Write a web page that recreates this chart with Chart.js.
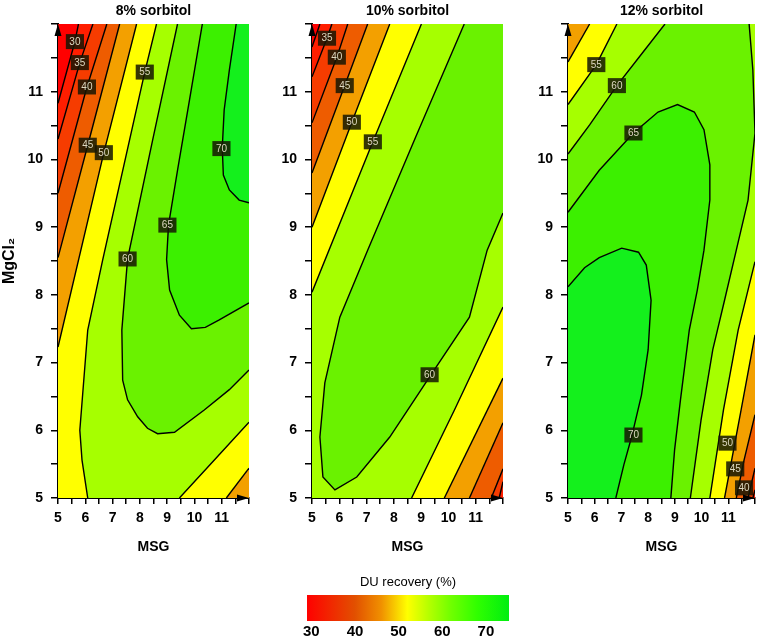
<!DOCTYPE html>
<html>
<head>
<meta charset="utf-8">
<script src="https://cdn.jsdelivr.net/npm/chart.js@4.4.1/dist/chart.umd.min.js"></script>
<style>
  body { margin: 0; background: #fff; }
  #wrap { position: relative; width: 761px; height: 640px; overflow: hidden; }
  canvas { position: absolute; }
</style>
</head>
<body>
<div id="wrap">
  <canvas id="c8" width="256" height="562" style="left:0;top:0"></canvas>
  <canvas id="c10" width="248" height="562" style="left:262px;top:0"></canvas>
  <canvas id="c12" width="243" height="562" style="left:518px;top:0"></canvas>
  <canvas id="cbar" width="256" height="74" style="left:280px;top:566px"></canvas>
</div>
<script>
const FONT = "'Liberation Sans', Arial, sans-serif";

// ---------- livelli e colori delle fasce ----------
const levels = [30, 35, 40, 45, 50, 55, 60, 65, 70];
const bandColors = ['#ff1e00', '#f63c00', '#ee5c00', '#f3a000', '#ffff00', '#a6ff00', '#6af200', '#3cf000', '#14f01c'];
const below30 = '#ff0000';
const axisTicks = [5, 6, 7, 8, 9, 10, 11];

// ---------- 8% sorbitol: curve di livello [MSG, MgCl2] ----------
const s8_30 = [[5, 10.83], [5.62, 11.74], [5.75, 12]];
const s8_35 = [[5, 10.3], [5.8, 11.43], [6.28, 12]];
const s8_40 = [[5, 9.5], [6.06, 11.07], [6.79, 12]];
const s8_45 = [[5, 8.55], [6.09, 10.21], [7.26, 12]];
const s8_50a = [[5, 7.23], [6.68, 10.1], [7.88, 12]];
const s8_50b = [[11.17, 5], [12, 5.44]];
const s8_55a = [[8.61, 12], [8.18, 11.29], [6.64, 8.52], [6.09, 7.48], [5.8, 6.0], [5.88, 5.56], [6.09, 5]];
const s8_55b = [[9.45, 5], [10.73, 5.56], [12, 6.12]];
const s8_60 = [[9.38, 12], [8.47, 10.29], [7.55, 8.53], [7.34, 7.48], [7.37, 6.74], [7.55, 6.45], [7.92, 6.2],
  [8.28, 6.03], [8.65, 5.95], [9.27, 5.97], [10.36, 6.3], [11.28, 6.6], [12, 6.89]];
const s8_65 = [[10.29, 12], [9.82, 10.88], [9.38, 9.84], [9.05, 9.03], [8.98, 8.52], [9.09, 8.07], [9.45, 7.7],
  [9.89, 7.5], [10.4, 7.52], [10.91, 7.63], [12, 7.88]];
const s8_70 = [[11.53, 12], [11.28, 11.32], [11.09, 10.73], [11.02, 10.17], [11.06, 9.77], [11.28, 9.55], [11.64, 9.4], [12, 9.36]];
const s8Labels = [[5.62, 11.74, '30'], [5.8, 11.43, '35'], [6.06, 11.07, '40'], [6.09, 10.21, '45'], [6.68, 10.1, '50'],
  [8.18, 11.29, '55'], [7.55, 8.53, '60'], [9.01, 9.03, '65'], [10.99, 10.16, '70']];

// ---------- 10% sorbitol ----------
const s10_30 = [[5, 11.66], [5.29, 12]];
const s10_35a = [[5, 11.22], [5.55, 11.79], [5.73, 12]];
const s10_35b = [[11.86, 5], [12, 5.24]];
const s10_40a = [[5, 10.54], [5.91, 11.51], [6.31, 12]];
const s10_40b = [[11.57, 5], [12, 5.43]];
const s10_45a = [[5, 9.8], [6.2, 11.09], [7.04, 12]];
const s10_45b = [[10.77, 5], [12, 6.11]];
const s10_50a = [[5, 9.0], [6.46, 10.55], [7.85, 12]];
const s10_50b = [[9.85, 5], [12, 6.77]];
const s10_55a = [[5, 8.04], [7.23, 10.26], [9.01, 12]];
const s10_55b = [[8.65, 5], [10.22, 6.3], [12, 7.82]];
const s10_60 = [[10.58, 12], [8.8, 10.33], [7.04, 8.66], [6.02, 7.67], [5.47, 6.7], [5.29, 5.9], [5.4, 5.31],
  [5.84, 5.12], [6.64, 5.31], [7.85, 5.9], [9.31, 6.79], [10.77, 7.67], [11.42, 8.66], [12, 9.21]];
const s10Labels = [[5.55, 11.79, '35'], [5.91, 11.51, '40'], [6.2, 11.09, '45'], [6.46, 10.55, '50'],
  [7.23, 10.26, '55'], [9.31, 6.82, '60']];

// ---------- 12% sorbitol ----------
const s12_35 = [[11.92, 5], [12, 5.12]];
const s12_40 = [[11.74, 5], [12, 5.44]];
const s12_45 = [[11.3, 5], [11.59, 5.56], [12, 6.23]];
const s12_50a = [[5, 11.44], [5.81, 12]];
const s12_50b = [[10.86, 5], [11.48, 6.3], [12, 7.41]];
const s12_55a = [[5, 10.81], [6.06, 11.4], [6.83, 12]];
const s12_55b = [[10.31, 5], [10.82, 6.3], [11.37, 7.48], [12, 8.49]];
const s12_60a = [[5, 10.08], [5.81, 10.51], [6.83, 11.09], [7.82, 11.59], [8.63, 12]];
const s12_60b = [[11.78, 12], [11.92, 11.32], [12, 10.39], [11.74, 9.4], [11.3, 8.66], [10.86, 7.92],
  [10.42, 7.19], [9.98, 6.15], [9.58, 5]];
const s12_65 = [[5, 9.22], [6.17, 9.84], [7.45, 10.39], [8.37, 10.7], [9.1, 10.81], [9.73, 10.7], [10.09, 10.44],
  [10.31, 9.92], [10.31, 9.4], [10.09, 8.66], [9.84, 8.07], [9.54, 7.48], [9.21, 6.45], [8.99, 5.71], [8.85, 5]];
const s12_70 = [[5, 8.12], [5.62, 8.4], [6.17, 8.55], [7.01, 8.69], [7.64, 8.63], [7.93, 8.44], [8.11, 7.92],
  [8.0, 7.19], [7.75, 6.52], [7.38, 5.9], [7.09, 5.49], [6.79, 5]];
const s12Labels = [[6.06, 11.4, '55'], [6.83, 11.09, '60'], [7.45, 10.39, '65'], [7.45, 5.93, '70'],
  [10.97, 5.81, '50'], [11.26, 5.43, '45'], [11.59, 5.15, '40']];

// ---------- barra dei colori ----------
const barMin = 29, barMax = 75.3;
const barStops = [29, 40, 46, 52, 57, 62, 68, 75.3];
const barColors = ['#ff0000', '#e25000', '#f09000', '#ffff00', '#b4ff00', '#70ff00', '#30ff00', '#00ee10'];
const barTicks = [30, 40, 50, 60, 70];

// ---------- helpers ----------
const rev = a => a.slice().reverse();
const pts = a => a.map(([x, y]) => ({ x, y }));
const col = lv => bandColors[levels.indexOf(lv)];

// zone "valore >= livello" chiuse sui bordi del grafico
const s8Regions = [
  [30, [...s8_30, [12, 12], [12, 5], [5, 5]]],
  [35, [...s8_35, [12, 12], [12, 5], [5, 5]]],
  [40, [...s8_40, [12, 12], [12, 5], [5, 5]]],
  [45, [...s8_45, [12, 12], [12, 5], [5, 5]]],
  [50, [...s8_50a, [12, 12], ...rev(s8_50b), [5, 5]]],
  [55, [...s8_55a, ...s8_55b, [12, 12]]],
  [60, [...s8_60, [12, 12]]],
  [65, [...s8_65, [12, 12]]],
  [70, [...s8_70, [12, 12]]]
];
const s8Lines = [s8_30, s8_35, s8_40, s8_45, s8_50a, s8_50b, s8_55a, s8_55b, s8_60, s8_65, s8_70];

const s10Regions = [
  [30, [...s10_30, [12, 12], [12, 5], [5, 5]]],
  [35, [...s10_35a, [12, 12], ...rev(s10_35b), [5, 5]]],
  [40, [...s10_40a, [12, 12], ...rev(s10_40b), [5, 5]]],
  [45, [...s10_45a, [12, 12], ...rev(s10_45b), [5, 5]]],
  [50, [...s10_50a, [12, 12], ...rev(s10_50b), [5, 5]]],
  [55, [...s10_55a, [12, 12], ...rev(s10_55b), [5, 5]]],
  [60, [...s10_60, [12, 12]]]
];
const s10Lines = [s10_30, s10_35a, s10_35b, s10_40a, s10_40b, s10_45a, s10_45b, s10_50a, s10_50b, s10_55a, s10_55b, s10_60];

const s12Regions = [
  [35, [[5, 5], [5, 12], [12, 12], ...rev(s12_35)]],
  [40, [[5, 5], [5, 12], [12, 12], ...rev(s12_40)]],
  [45, [[5, 5], [5, 12], [12, 12], ...rev(s12_45)]],
  [50, [[5, 5], ...s12_50a, [12, 12], ...rev(s12_50b)]],
  [55, [[5, 5], ...s12_55a, [12, 12], ...rev(s12_55b)]],
  [60, [[5, 5], ...s12_60a, ...s12_60b]],
  [65, [[5, 5], ...s12_65]],
  [70, [[5, 5], ...s12_70]]
];
const s12Lines = [s12_35, s12_40, s12_45, s12_50a, s12_50b, s12_55a, s12_55b, s12_60a, s12_60b, s12_65, s12_70];

// ---------- plugin ----------
const bgPlugin = color => ({
  id: 'plotBg',
  beforeDatasetsDraw(chart) {
    const { ctx, chartArea: a } = chart;
    ctx.save();
    ctx.fillStyle = color;
    ctx.fillRect(a.left, a.top, a.right - a.left, a.bottom - a.top);
    ctx.restore();
  }
});

const labelPlugin = labels => ({
  id: 'contourLabels',
  afterDatasetsDraw(chart) {
    const { ctx, scales: { x, y } } = chart;
    ctx.save();
    ctx.font = '10px ' + FONT;
    ctx.textAlign = 'center';
    ctx.textBaseline = 'middle';
    labels.forEach(([vx, vy, t]) => {
      const px = x.getPixelForValue(vx), py = y.getPixelForValue(vy);
      const w = ctx.measureText(t).width + 7, h = 15;
      ctx.fillStyle = 'rgba(22,22,4,0.86)';
      ctx.fillRect(px - w / 2, py - h / 2, w, h);
      ctx.fillStyle = '#ddd8c0';
      ctx.fillText(t, px, py + 0.5);
    });
    ctx.restore();
  }
});

const arrowPlugin = {
  id: 'axisArrows',
  afterDraw(chart) {
    const { ctx, chartArea: a } = chart;
    ctx.save();
    ctx.fillStyle = '#000';
    ctx.beginPath();
    ctx.moveTo(a.left, a.top);
    ctx.lineTo(a.left - 3.5, a.top + 12);
    ctx.lineTo(a.left + 3.5, a.top + 12);
    ctx.closePath();
    ctx.fill();
    ctx.beginPath();
    ctx.moveTo(a.right, a.bottom);
    ctx.lineTo(a.right - 12, a.bottom - 3.5);
    ctx.lineTo(a.right - 12, a.bottom + 3.5);
    ctx.closePath();
    ctx.fill();
    ctx.restore();
  }
};

function contourChart(id, title, regions, lines, labels, base, yTitle, yWidth, padRight) {
  const datasets = [];
  regions.forEach(([lv, poly]) => datasets.push({
    data: pts(poly), fill: 'shape', backgroundColor: col(lv),
    borderColor: 'rgba(0,0,0,0)', borderWidth: 0, pointRadius: 0, order: 100 - lv
  }));
  lines.forEach(l => datasets.push({
    data: pts(l), fill: false, borderColor: '#000', borderWidth: 1.4, pointRadius: 0, order: 0
  }));

  const tickFont = { family: FONT, size: 14, weight: 'bold' };
  const tickLabel = v => axisTicks.includes(v) ? v : '';

  return new Chart(document.getElementById(id), {
    type: 'line',
    data: { datasets },
    options: {
      responsive: false,
      animation: false,
      events: [],
      layout: { padding: { right: padRight } },
      plugins: {
        legend: { display: false },
        tooltip: { enabled: false },
        title: {
          display: true, text: title, color: '#000', fullSize: false,
          font: { family: FONT, size: 14, weight: 'bold', lineHeight: '16px' },
          padding: { top: 3, bottom: 5 }
        }
      },
      scales: {
        x: {
          type: 'linear', min: 5, max: 12, z: 1,
          afterFit: s => { s.height = 64; },
          border: { color: '#000', width: 2 },
          grid: { drawOnChartArea: false, color: '#000', tickLength: 6, lineWidth: 1.5 },
          ticks: { stepSize: 0.5, autoSkip: false, maxRotation: 0, padding: 6, color: '#000', font: tickFont, callback: tickLabel },
          title: { display: true, text: 'MSG', color: '#000', font: { family: FONT, size: 14, weight: 'bold' }, padding: { top: 0, bottom: 6 } }
        },
        y: {
          type: 'linear', min: 5, max: 12, z: 1,
          afterFit: s => { s.width = yWidth; },
          border: { color: '#000', width: 2 },
          grid: { drawOnChartArea: false, color: '#000', tickLength: 7, lineWidth: 1.5 },
          ticks: { stepSize: 0.5, autoSkip: false, padding: 8, color: '#000', font: tickFont, callback: tickLabel },
          title: { display: !!yTitle, text: yTitle, color: '#000', font: { family: FONT, size: 16, weight: 'bold' }, padding: { top: 0, bottom: 0 } }
        }
      }
    },
    plugins: [bgPlugin(base), labelPlugin(labels), arrowPlugin]
  });
}

contourChart('c8', '8% sorbitol', s8Regions, s8Lines, s8Labels, below30, 'MgCl₂', 58, 7);
contourChart('c10', '10% sorbitol', s10Regions, s10Lines, s10Labels, below30, '', 50, 7);
contourChart('c12', '12% sorbitol', s12Regions, s12Lines, s12Labels, col(30), '', 50, 2);

// ---------- barra colori ----------
function barGradient(chart) {
  const { ctx, chartArea, scales } = chart;
  if (!chartArea) return barColors[0];
  const x0 = scales.x.getPixelForValue(barMin), x1 = scales.x.getPixelForValue(barMax);
  const g = ctx.createLinearGradient(x0, 0, x1, 0);
  barStops.forEach((v, i) => g.addColorStop((v - barMin) / (barMax - barMin), barColors[i]));
  return g;
}

new Chart(document.getElementById('cbar'), {
  type: 'bar',
  data: {
    labels: [''],
    datasets: [{
      data: [[barMin, barMax]], backgroundColor: c => barGradient(c.chart),
      borderWidth: 0, barPercentage: 1, categoryPercentage: 1
    }]
  },
  options: {
    indexAxis: 'y',
    responsive: false,
    animation: false,
    events: [],
    layout: { padding: { left: 27, right: 27 } },
    plugins: {
      legend: { display: false },
      tooltip: { enabled: false },
      title: {
        display: true, text: 'DU recovery (%)', color: '#000',
        font: { family: FONT, size: 13, weight: 'normal', lineHeight: '16px' },
        padding: { top: 8, bottom: 5 }
      }
    },
    scales: {
      x: {
        type: 'linear', min: barMin, max: barMax,
        afterFit: s => { s.height = 19; },
        afterBuildTicks: s => { s.ticks = barTicks.map(v => ({ value: v })); },
        grid: { display: false, drawTicks: false },
        border: { display: false },
        ticks: { padding: 2, autoSkip: false, color: '#000', font: { family: FONT, size: 15, weight: 'bold' } }
      },
      y: { display: false }
    }
  }
});
</script>
</body>
</html>
